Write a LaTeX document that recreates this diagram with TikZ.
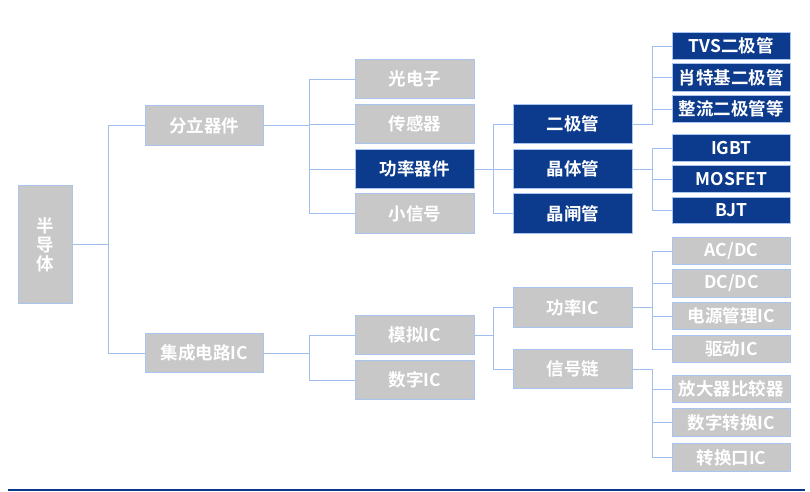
\documentclass[tikz,border=0pt]{standalone}
\usepackage{fontspec}
\newfontfamily\cjk{Noto Sans CJK SC Bold}
\definecolor{boxgray}{RGB}{200,200,200}
\definecolor{boxblue}{RGB}{12,58,140}
\definecolor{edgeblue}{RGB}{170,196,240}
\definecolor{lineblue}{RGB}{160,190,240}
\definecolor{rule}{RGB}{10,55,140}
\tikzset{
  base/.style={draw=edgeblue, line width=0.9pt, text=white, inner sep=0pt, font=\cjk\fontsize{17.5}{20}\selectfont, anchor=north west},
  gbox/.style={base, fill=boxgray},
  bbox/.style={base, fill=boxblue},
  link/.style={draw=lineblue, line width=0.9pt},
}
\begin{document}
\begin{tikzpicture}[x=1pt,y=-1pt]
\useasboundingbox (0,0) rectangle (810,491);
% root
\node[gbox, minimum width=54, minimum height=118, align=center] (root) at (18,185) {半\\[-1pt]导\\[-1pt]体};
% level 1
\node[gbox, minimum width=118, minimum height=40] (fl) at (145,105) {分立器件};
\node[gbox, minimum width=118, minimum height=39] (ic) at (145,333) {集成电路IC};
% level 2
\node[gbox, minimum width=119, minimum height=39] (gdz) at (355,59) {光电子};
\node[gbox, minimum width=119, minimum height=39] (cgq) at (355,104) {传感器};
\node[bbox, minimum width=119, minimum height=39] (glqj) at (355,149) {功率器件};
\node[gbox, minimum width=119, minimum height=40] (xxh) at (355,193) {小信号};
\node[gbox, minimum width=119, minimum height=39] (mn) at (355,315) {模拟IC};
\node[gbox, minimum width=119, minimum height=39] (sz) at (355,360) {数字IC};
% level 3
\node[bbox, minimum width=119, minimum height=39] (ejg) at (513,104) {二极管};
\node[bbox, minimum width=119, minimum height=39] (jtg) at (513,149) {晶体管};
\node[bbox, minimum width=119, minimum height=40] (jzg) at (513,193) {晶闸管};
\node[gbox, minimum width=119, minimum height=40] (glic) at (513,287) {功率IC};
\node[gbox, minimum width=119, minimum height=39] (xhl) at (513,349) {信号链};
% level 4
\node[bbox, minimum width=118, minimum height=27] (tvs) at (672,32) {TVS二极管};
\node[bbox, minimum width=118, minimum height=28] (stj) at (672,63) {肖特基二极管};
\node[bbox, minimum width=118, minimum height=27] (zl) at (672,95) {整流二极管等};
\node[bbox, minimum width=118, minimum height=27] (igbt) at (672,134) {IGBT};
\node[bbox, minimum width=118, minimum height=27] (mos) at (672,165) {MOSFET};
\node[bbox, minimum width=118, minimum height=26] (bjt) at (672,197) {BJT};
\node[gbox, minimum width=118, minimum height=27] (acdc) at (672,237) {AC/DC};
\node[gbox, minimum width=118, minimum height=28] (dcdc) at (672,269) {DC/DC};
\node[gbox, minimum width=118, minimum height=27] (dygl) at (672,302) {电源管理IC};
\node[gbox, minimum width=118, minimum height=27] (qd) at (672,335) {驱动IC};
\node[gbox, minimum width=118, minimum height=27] (fdq) at (672,375) {放大器比较器};
\node[gbox, minimum width=118, minimum height=28] (szzh) at (672,408) {数字转换IC};
\node[gbox, minimum width=118, minimum height=28] (zhk) at (672,443) {转换口IC};
% connectors
\foreach \c in {fl,ic} \draw[link] (root.east) -- ++(36,0) |- (\c.west);
\foreach \c in {gdz,cgq,glqj,xxh} \draw[link] (fl.east) -- ++(46,0) |- (\c.west);
\foreach \c in {mn,sz} \draw[link] (ic.east) -- ++(46,0) |- (\c.west);
\foreach \c in {ejg,jtg,jzg} \draw[link] (glqj.east) -- ++(19,0) |- (\c.west);
\foreach \c in {glic,xhl} \draw[link] (mn.east) -- ++(19,0) |- (\c.west);
\foreach \c in {tvs,stj,zl} \draw[link] (ejg.east) -- ++(20,0) |- (\c.west);
\foreach \c in {igbt,mos,bjt} \draw[link] (jtg.east) -- ++(20,0) |- (\c.west);
\foreach \c in {acdc,dcdc,dygl,qd} \draw[link] (glic.east) -- ++(20,0) |- (\c.west);
\foreach \c in {fdq,szzh,zhk} \draw[link] (xhl.east) -- ++(20,0) |- (\c.west);
% bottom rule
\coordinate (rl) at (8,489.5);
\coordinate (rr) at (805,489.5);
\draw[rule, line width=2pt] (rl) -- (rr);
\end{tikzpicture}
\end{document}
